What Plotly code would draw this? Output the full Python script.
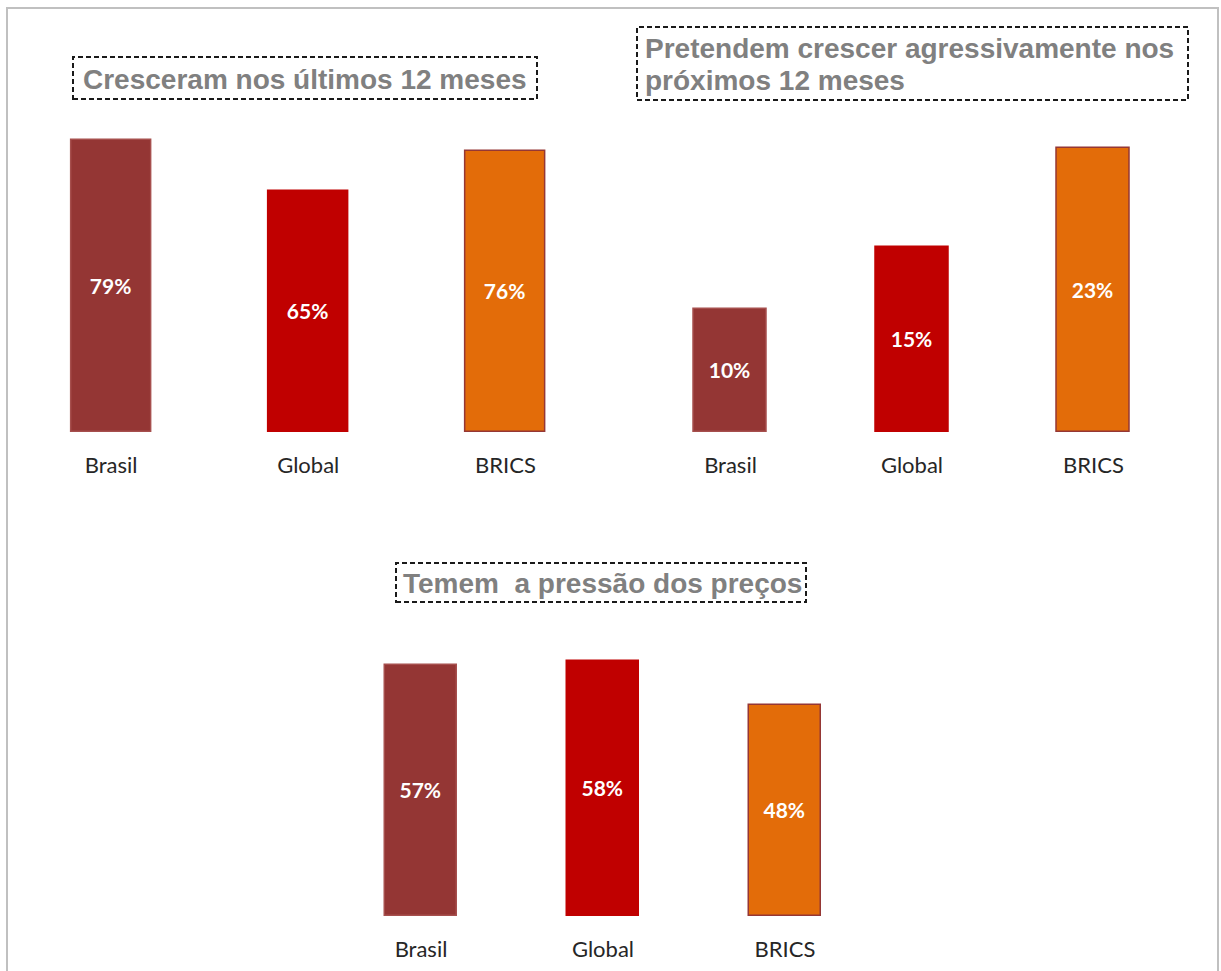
import plotly.graph_objects as go

W, H = 1221, 971

categories = ["Brasil", "Global", "BRICS"]
grew_last_12m = [79, 65, 76]
plan_aggressive_growth = [10, 15, 23]
fear_price_pressure = [57, 58, 48]

title_1 = "Cresceram nos últimos 12 meses"
title_2_lines = ["Pretendem crescer agressivamente nos", "próximos 12 meses"]
title_3 = "Temem  a pressão dos preços"

bar_colors = ["#943634", "#C00000", "#E36C09"]
line_colors = ["#A64F4D", "#C00000", "#953735"]


def px_x(v):
    return v / W


def px_y(v):
    return 1 - v / H


fig = go.Figure()

panels = [
    # (values, xdomain px, ydomain px (bottom, top), yrange max, bar width)
    (grew_last_12m, (12.4, 604.1), (432, 120), 84.3, 0.406),
    (plan_aggressive_growth, (639.75, 1184.25), (432, 120), 25.3, 0.402),
    (fear_price_pressure, (330, 876), (916, 620), 67.27, 0.401),
]

for i, (vals, xd, yd, ymax, bw) in enumerate(panels, start=1):
    xa = "x" if i == 1 else f"x{i}"
    ya = "y" if i == 1 else f"y{i}"
    fig.add_trace(go.Bar(
        x=categories,
        y=vals,
        xaxis=xa,
        yaxis=ya,
        width=bw,
        text=[f"{v}%" for v in vals],
        textposition="inside",
        insidetextanchor="middle",
        textangle=0,
        insidetextfont=dict(family="Lato", size=21, color="white", weight="bold"),
        marker=dict(color=bar_colors, line=dict(color=line_colors, width=1.5)),
        showlegend=False,
        hoverinfo="skip",
    ))
    axkey_x = "xaxis" if i == 1 else f"xaxis{i}"
    axkey_y = "yaxis" if i == 1 else f"yaxis{i}"
    fig.layout[axkey_x] = dict(
        domain=[px_x(xd[0]), px_x(xd[1])],
        anchor=ya,
        type="category",
        range=[-0.5, 2.5],
        showline=False,
        showgrid=False,
        zeroline=False,
        ticks="",
        ticklabelstandoff=18,
        tickfont=dict(family="Lato", size=22, color="#262626"),
        fixedrange=True,
    )
    fig.layout[axkey_y] = dict(
        domain=[px_y(yd[0]), px_y(yd[1])],
        anchor=xa,
        range=[0, ymax],
        visible=False,
        fixedrange=True,
    )

# Outer frame
fig.add_shape(type="rect", xref="paper", yref="paper",
              x0=px_x(7), x1=px_x(1218), y0=px_y(990), y1=px_y(8),
              line=dict(color="#C0C0C0", width=2), fillcolor="rgba(0,0,0,0)", layer="below")

# Title boxes (dashed)
boxes = [(73, 537, 57, 99), (637, 1188, 27, 100), (396, 806, 563, 602)]
for (x0, x1, y0, y1) in boxes:
    fig.add_shape(type="rect", xref="paper", yref="paper",
                  x0=px_x(x0), x1=px_x(x1), y0=px_y(y1), y1=px_y(y0),
                  line=dict(color="#1a1a1a", width=2, dash="5px,3px"),
                  fillcolor="rgba(0,0,0,0)")

title_font = dict(family="Liberation Sans", size=28, color="#808080", weight="bold")
fig.add_annotation(text=title_1, xref="paper", yref="paper",
                   x=px_x(305), y=px_y(79), xanchor="center", yanchor="middle",
                   showarrow=False, font=title_font)
for line_text, yc in zip(title_2_lines, [49, 80]):
    fig.add_annotation(text=line_text, xref="paper", yref="paper",
                       x=px_x(643), y=px_y(yc), xanchor="left", yanchor="middle",
                       align="left", showarrow=False, font=title_font)
fig.add_annotation(text=title_3, xref="paper", yref="paper",
                   x=px_x(602), y=px_y(583), xanchor="center", yanchor="middle",
                   showarrow=False, font=title_font)

fig.update_layout(
    width=W, height=H,
    margin=dict(l=0, r=0, t=0, b=0),
    paper_bgcolor="white",
    plot_bgcolor="rgba(0,0,0,0)",
    bargap=0,
)

fig.write_html("out.html", config={"displayModeBar": False})
